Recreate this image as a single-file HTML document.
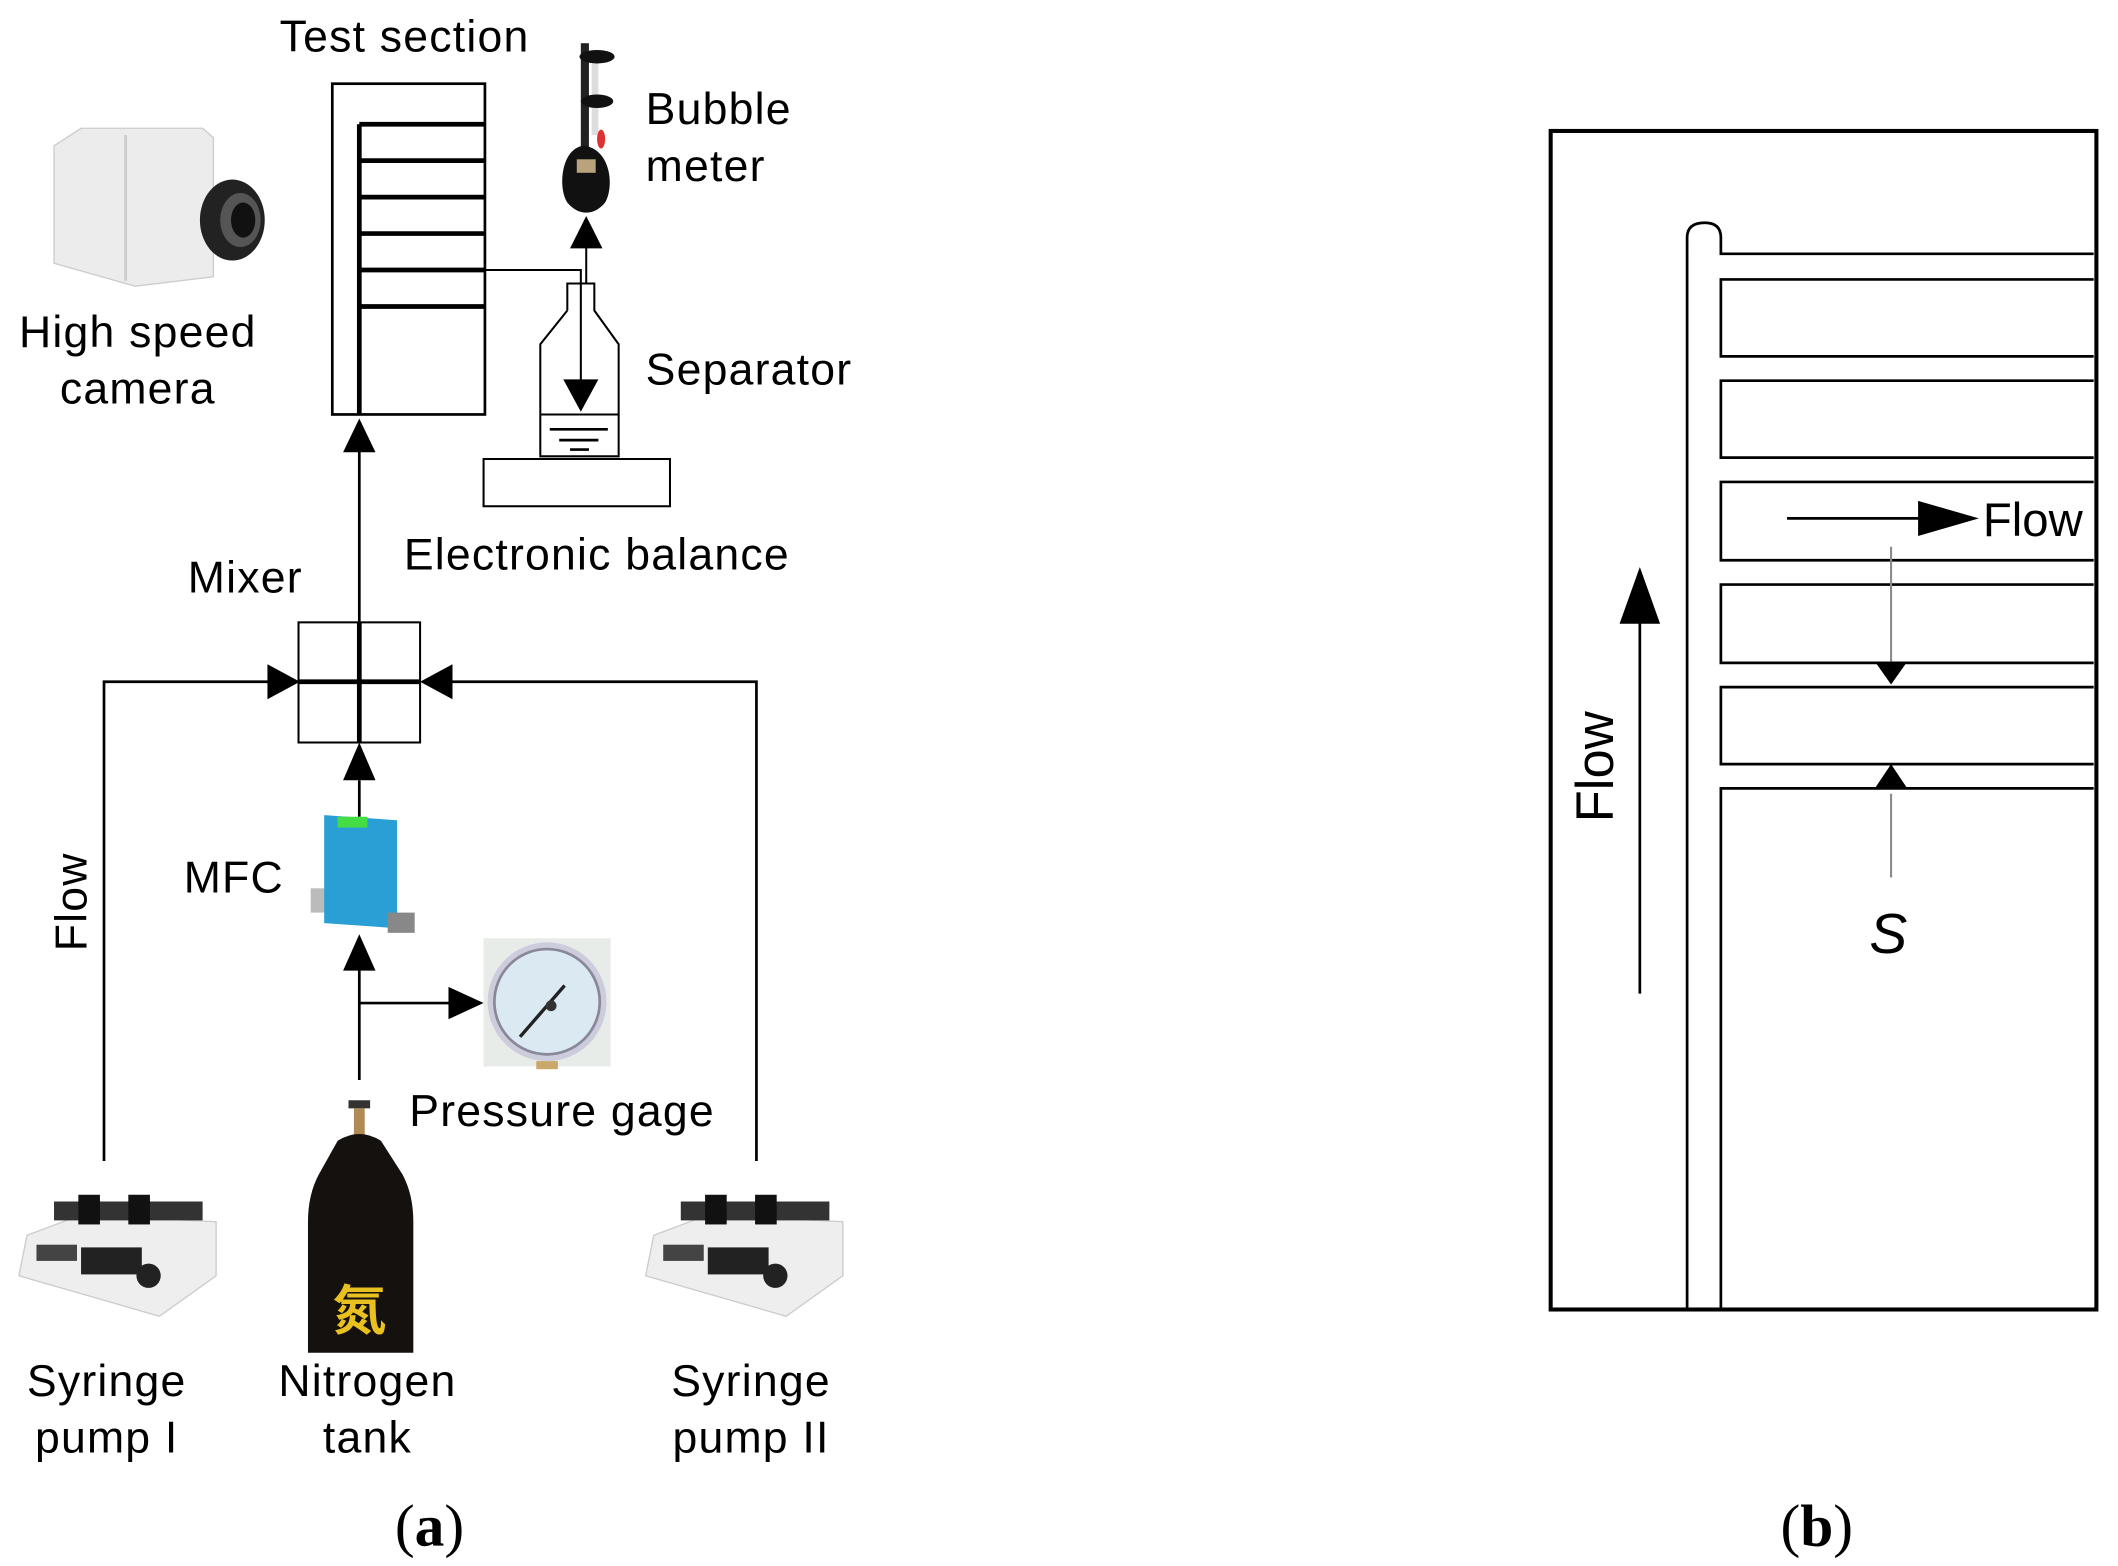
<!DOCTYPE html>
<html><head><meta charset="utf-8"><style>html,body{margin:0;padding:0;background:#fff}svg{display:block}</style></head>
<body>
<svg width="2118" height="1566" viewBox="0 0 1568 1160" preserveAspectRatio="none" xmlns="http://www.w3.org/2000/svg" font-family="Liberation Sans, sans-serif">
<rect width="1568" height="1160" fill="#fff"/>
<g font-size="33" fill="#000" letter-spacing="0.9">
<text x="207" y="38">Test section</text>
<text x="478" y="92">Bubble</text>
<text x="478" y="134">meter</text>
<text x="102" y="257" text-anchor="middle">High speed</text>
<text x="102" y="299" text-anchor="middle">camera</text>
<text x="478" y="285">Separator</text>
<text x="299" y="422">Electronic balance</text>
<text x="139" y="439">Mixer</text>
<text x="136" y="661">MFC</text>
<text transform="translate(64,668) rotate(-90)" text-anchor="middle">Flow</text>
<text x="303" y="834">Pressure gage</text>
<text x="79" y="1034" text-anchor="middle">Syringe</text>
<text x="79" y="1076" text-anchor="middle">pump I</text>
<text x="272" y="1034" text-anchor="middle">Nitrogen</text>
<text x="272" y="1076" text-anchor="middle">tank</text>
<text x="556" y="1034" text-anchor="middle">Syringe</text>
<text x="556" y="1076" text-anchor="middle">pump II</text>
</g>
<g font-family="Liberation Serif, serif" font-size="44" text-anchor="middle">
<text x="318" y="1145">(<tspan font-weight="bold">a</tspan>)</text>
<text x="1345" y="1145">(<tspan font-weight="bold">b</tspan>)</text>
</g>
<!-- camera -->
<g>
<path d="M40 108 L60 95 L150 95 L158 102 L158 205 L100 212 L40 195 Z" fill="#ececec" stroke="#ccc"/>
<rect x="92" y="100" width="2" height="108" fill="#ccc"/>
<ellipse cx="172" cy="163" rx="24" ry="30" fill="#222"/>
<ellipse cx="178" cy="163" rx="15" ry="20" fill="#555"/>
<ellipse cx="180" cy="163" rx="9" ry="13" fill="#111"/>
</g>
<!-- test section -->
<g stroke="#000" fill="none">
<rect x="246" y="62" width="113" height="245" stroke-width="2"/>
<path d="M266 92 V307" stroke-width="3.5"/>
<path d="M266 92H359M266 119H359M266 146H359M266 173H359M266 200H359M266 227H359" stroke-width="3.5"/>
<path d="M359 200 H430 V285" stroke-width="1.5"/>
<path d="M434 210 V183" stroke-width="1.5"/>
<path d="M420 230 V210 H440 V230 L458 255 V338 H400 V255 L420 230" stroke-width="1.5"/>
<path d="M400 307 H458" stroke-width="1.5"/>
<path d="M407 318H450M414 326H443M422 333H436" stroke-width="2"/>
<rect x="358" y="340" width="138" height="35" stroke-width="1.5"/>
<path d="M266 330 V461" stroke-width="2"/>
<rect x="221" y="461" width="90" height="89" stroke-width="1.5"/>
<path d="M266 461 V550 M221 505 H311" stroke-width="3.5"/>
<path d="M77 860 V505 H200 M560 860 V505 H330" stroke-width="2"/>
<path d="M266 578 V605 M266 718 V800 M266 743 H335" stroke-width="2"/>
</g>
<g fill="#000">
<polygon points="266,310 254,335 278,335"/>
<polygon points="430,305 417,281 443,281"/>
<polygon points="434,160 422,184 446,184"/>
<polygon points="222,505 198,492 198,518"/>
<polygon points="311,505 335,492 335,518"/>
<polygon points="266,550 254,578 278,578"/>
<polygon points="266,692 254,719 278,719"/>
<polygon points="358,743 332,731 332,755"/>
</g>
<!-- bubble meter -->
<rect x="430" y="32" width="6" height="80" fill="#222"/>
<rect x="438" y="40" width="5" height="60" fill="#ddd"/>
<ellipse cx="442" cy="42" rx="13" ry="5" fill="#111"/>
<ellipse cx="442" cy="75" rx="12" ry="5" fill="#111"/>
<ellipse cx="445" cy="103" rx="3" ry="7" fill="#d33"/>
<path d="M432 108 C415 110 413 140 420 150 C428 160 440 160 448 150 C455 138 452 110 432 108 Z" fill="#111"/>
<rect x="427" y="118" width="14" height="10" fill="#b9a27c"/>
<!-- MFC -->
<rect x="230" y="658" width="12" height="18" fill="#bbb"/>
<rect x="240" y="605" width="54" height="80" fill="#2a9fd6" transform="skewY(4) translate(0,-18)"/>
<rect x="250" y="605" width="22" height="8" fill="#4d4"/>
<rect x="287" y="676" width="20" height="15" fill="#888"/>
<!-- gauge -->
<rect x="358" y="695" width="94" height="95" fill="#e8ece8"/>
<circle cx="405" cy="742" r="44" fill="#ccd" />
<circle cx="405" cy="742" r="39" fill="#dbe9f3" stroke="#889" stroke-width="2"/>
<path d="M385 768 L418 730" stroke="#222" stroke-width="2.5"/>
<circle cx="408" cy="745" r="4" fill="#333"/>
<rect x="397" y="786" width="16" height="6" fill="#c9a86a"/>
<!-- nitrogen tank -->
<rect x="258" y="815" width="16" height="6" fill="#333"/>
<rect x="262" y="821" width="8" height="20" fill="#b08a55"/>
<path d="M250 845 Q266 835 282 845 L298 870 Q306 885 306 905 V1002 H228 V905 Q228 885 236 870 Z" fill="#15110f"/>
<text x="266" y="985" font-family="Noto Sans CJK SC, sans-serif" font-size="40" fill="#e8c020" text-anchor="middle" font-weight="bold">氮</text>
<!-- syringe pumps -->
<g>
<path d="M20 915 L60 900 L160 905 V945 L118 975 L14 945 Z" fill="#eeeeee" stroke="#ccc"/>
<rect x="27" y="922" width="30" height="12" fill="#444"/>
<rect x="60" y="924" width="45" height="20" fill="#222"/>
<circle cx="110" cy="945" r="9" fill="#222"/>
<rect x="40" y="890" width="110" height="14" fill="#333"/>
<rect x="58" y="885" width="16" height="22" fill="#111"/><rect x="95" y="885" width="16" height="22" fill="#111"/>
</g>
<g transform="translate(464,0)">
<path d="M20 915 L60 900 L160 905 V945 L118 975 L14 945 Z" fill="#eeeeee" stroke="#ccc"/>
<rect x="27" y="922" width="30" height="12" fill="#444"/>
<rect x="60" y="924" width="45" height="20" fill="#222"/>
<circle cx="110" cy="945" r="9" fill="#222"/>
<rect x="40" y="890" width="110" height="14" fill="#333"/>
<rect x="58" y="885" width="16" height="22" fill="#111"/><rect x="95" y="885" width="16" height="22" fill="#111"/>
</g>
<!-- panel b -->
<g stroke="#000" fill="none" stroke-width="2">
<rect x="1148" y="97" width="404" height="873" stroke-width="3"/>
<path d="M1249 970 V176 Q1249 165 1262 165 Q1274 165 1274 176 V188 H1550"/>
<path d="M1550 207 H1274 V264 H1550 M1550 282 H1274 V339 H1550 M1550 357 H1274 V415 H1550 M1550 433 H1274 V491 H1550 M1550 509 H1274 V566 H1550 M1550 584 H1274 V970"/>
<path d="M1323 384 H1425"/>
<path d="M1214 460 V736"/>
<path d="M1400 405 V490 M1400 588 V650" stroke="#888" stroke-width="1.5"/>
</g>
<g fill="#000">
<polygon points="1465,384 1420,371 1420,397"/>
<polygon points="1214,420 1199,462 1229,462"/>
<polygon points="1400,507 1388,490 1412,490"/>
<polygon points="1400,566 1388,584 1412,584"/>
</g>
<text x="1468" y="397" font-size="35">Flow</text>
<text transform="translate(1194,568) rotate(-90)" font-size="39" text-anchor="middle">Flow</text>
<text x="1398" y="706" font-size="42" font-style="italic" text-anchor="middle">S</text>
</svg>
</body></html>
